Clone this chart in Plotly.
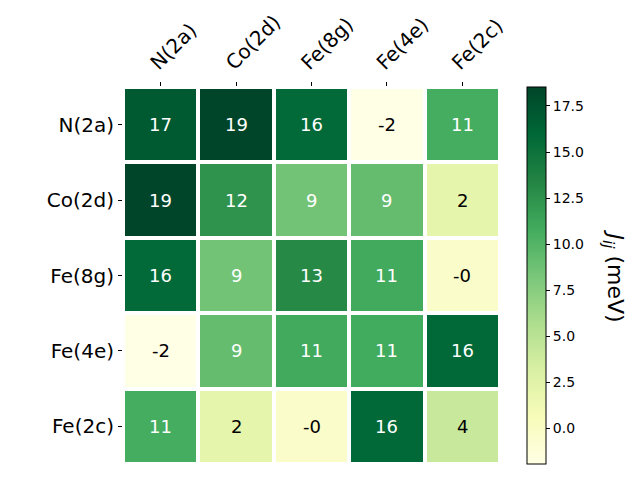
import plotly.graph_objects as go

# site labels and exchange matrix (meV)
sites = ["N(2a)", "Co(2d)", "Fe(8g)", "Fe(4e)", "Fe(2c)"]
row_n2a = [17.0, 18.53, 15.8, -1.93, 10.7]
row_co2d = [18.53, 12.4, 8.6, 9.2, 2.2]
row_fe8g = [15.8, 8.6, 13.1, 10.9, -0.3]
row_fe4e = [-1.93, 9.2, 10.9, 10.8, 15.9]
row_fe2c = [10.7, 2.2, -0.3, 15.9, 4.2]
jij = [row_n2a, row_co2d, row_fe8g, row_fe4e, row_fe2c]

ylgn = [
    [0.0, "#ffffe5"], [0.125, "#f7fcb9"], [0.25, "#d9f0a3"],
    [0.375, "#addd8e"], [0.5, "#78c679"], [0.625, "#41ab5d"],
    [0.75, "#238443"], [0.875, "#006837"], [1.0, "#004529"],
]

zmin = min(min(r) for r in jij)
zmax = max(max(r) for r in jij)
threshold = (zmin + zmax) / 2

heat = go.Heatmap(
    z=jij, x=sites, y=sites,
    colorscale=ylgn, zmin=zmin, zmax=zmax,
    xgap=4, ygap=4,
    hoverinfo="skip",
    colorbar=dict(
        x=1.072, xanchor="left", y=0.5, yanchor="middle",
        len=1.0, lenmode="fraction", thickness=19,
        xpad=0, ypad=0,
        outlinecolor="black", outlinewidth=1,
        ticks="outside", ticklen=4, tickcolor="black",
        tickvals=[0, 2.5, 5, 7.5, 10, 12.5, 15, 17.5],
        ticktext=["0.0", "2.5", "5.0", "7.5", "10.0", "12.5", "15.0", "17.5"],
        tickfont=dict(size=14, color="black"),
    ),
)

fig = go.Figure(heat)

annotations = []
for i, row in enumerate(jij):
    for j, v in enumerate(row):
        annotations.append(dict(
            x=sites[j], y=sites[i], xref="x", yref="y",
            text=f"{v:.0f}", showarrow=False,
            font=dict(size=18, color="white" if v > threshold else "black"),
        ))

annotations.append(dict(
    x=1.3, y=0.5, xref="paper", yref="paper",
    xanchor="center", yanchor="middle",
    text="<i>J</i><sub><i>ij</i></sub> (meV)", showarrow=False,
    textangle=90, font=dict(size=22, color="black"),
))

# page body adds an 8px offset, so margins are shifted to compensate
fig.update_layout(
    width=640, height=480,
    margin=dict(l=115, r=148, t=79, b=24, autoexpand=False),
    paper_bgcolor="white", plot_bgcolor="white",
    font=dict(family="DejaVu Sans", color="black"),
    annotations=annotations,
    xaxis=dict(
        side="top", tickangle=-45, tickfont=dict(size=20),
        ticks="outside", ticklen=4, tickcolor="black",
        ticklabelshift=-9,
        showgrid=False, zeroline=False, automargin=False,
    ),
    yaxis=dict(
        autorange="reversed", tickfont=dict(size=20),
        ticks="outside", ticklen=4, tickcolor="black",
        showgrid=False, zeroline=False, automargin=False,
    ),
)

fig.write_html("out.html")
